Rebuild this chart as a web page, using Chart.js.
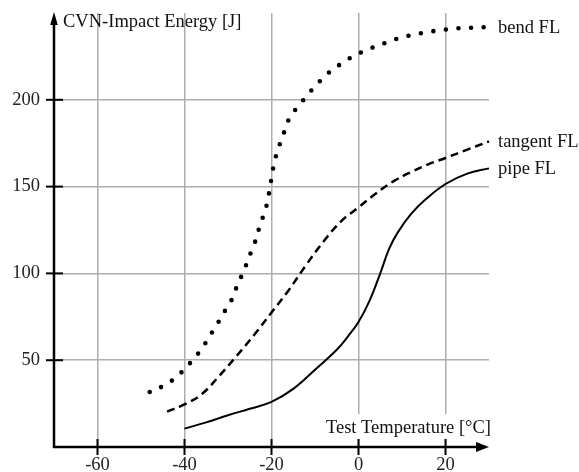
<!DOCTYPE html>
<html>
<head>
<meta charset="utf-8">
<script src="https://cdn.jsdelivr.net/npm/chart.js@4.4.1/dist/chart.umd.min.js"></script>
<style>
  html, body { margin: 0; padding: 0; background: #fff; }
  canvas { display: block; }
</style>
</head>
<body>
<canvas id="plot" width="579" height="472"></canvas>
<script>
// chart data

const xTicks = [-60, -40, -20, 0, 20]
const xTickLabels = ['-60', '-40', '-20', '0', '20']
const yTicks = [50, 100, 150, 200]
const yTickLabels = ['50', '100', '150', '200']

const xTitle = 'Test Temperature [°C]'
const yTitle = 'CVN-Impact Energy [J]'

const seriesNames = ['bend FL', 'tangent FL', 'pipe FL']

const bendTemp   = [-48, -45, -42.5, -40.5, -38.5, -36.5, -35, -33.5, -32, -30.5, -29, -28, -26.8, -25.7, -24.7, -23.7, -22.8, -21.9, -21, -20.5, -20, -19.5, -18.8, -17.8, -16.8, -15.8, -14, -12, -10, -8, -6, -3.5, -1, 1.7, 4.5, 7.2, 10, 13, 16, 19, 22, 25, 28, 30.5]
const bendEnergy = [31.7, 35, 39, 43.5, 49, 55, 60.6, 66.8, 72.8, 79.3, 85.6, 92.2, 99.1, 105.7, 112.4, 118.7, 126.4, 133.1, 140.4, 147.5, 154.8, 162, 169.2, 176.4, 183.3, 189.8, 195.8, 201.9, 207.7, 212.9, 217.3, 221.5, 225.4, 228.5, 231.3, 233.7, 236, 237.6, 239.1, 240.1, 241, 241.4, 241.8, 241.8]

const tangentTemp   = [-44, -40, -36, -32, -28, -24, -20, -16, -12, -8, -4, 0, 4, 8, 12, 16, 20, 25, 30]
const tangentEnergy = [20.4, 24.5, 30.5, 41, 52.5, 64.5, 77.5, 90.5, 105, 118.5, 130, 138, 146, 153, 158.3, 162.8, 166.5, 171.3, 176]

const pipeTemp   = [-40, -35, -30, -25, -20, -15, -10, -5, -2.5, 0, 2.5, 5, 7, 9, 12, 15.5, 20, 25, 30]
const pipeEnergy = [10.6, 14.2, 18.3, 22, 26, 33.5, 44.5, 56, 63.5, 72, 84, 100, 114, 123.5, 134, 142.8, 151.5, 157.5, 160.5]

const serif = 'Liberation Serif, Times New Roman, serif'
const fontSize = 18.5

function toPoints(xs, ys) {
  return xs.map((x, i) => ({ x: x, y: ys[i] }))
}

// axes with arrows, ticks crossing the axis, titles and line labels
const decorations = {
  id: 'decorations',
  beforeDatasetsDraw(chart) {
    const ctx = chart.ctx
    const area = chart.chartArea
    ctx.save()
    ctx.font = fontSize + 'px ' + serif
    const w = ctx.measureText(xTitle).width
    const right = area.right + 2
    // white patch behind the x title hides the grid
    ctx.fillStyle = '#fff'
    ctx.fillRect(right - w - 4, area.bottom - 33, w + 8, 25)
    ctx.fillStyle = '#111'
    ctx.textAlign = 'right'
    ctx.textBaseline = 'alphabetic'
    ctx.fillText(xTitle, right, area.bottom - 14)
    ctx.restore()
  },
  afterDraw(chart) {
    const ctx = chart.ctx
    const area = chart.chartArea
    const xs = chart.scales.x
    const ys = chart.scales.y
    ctx.save()
    ctx.strokeStyle = '#000'
    ctx.fillStyle = '#000'
    ctx.lineWidth = 2.5
    ctx.lineCap = 'butt'

    // y axis
    ctx.beginPath()
    ctx.moveTo(area.left, area.bottom + 1)
    ctx.lineTo(area.left, area.top + 8)
    ctx.stroke()
    ctx.beginPath()
    ctx.moveTo(area.left, area.top - 1)
    ctx.lineTo(area.left - 3.8, area.top + 12)
    ctx.lineTo(area.left + 3.8, area.top + 12)
    ctx.closePath()
    ctx.fill()

    // x axis
    ctx.beginPath()
    ctx.moveTo(area.left - 1, area.bottom)
    ctx.lineTo(area.right - 8, area.bottom)
    ctx.stroke()
    ctx.beginPath()
    ctx.moveTo(area.right, area.bottom)
    ctx.lineTo(area.right - 13, area.bottom - 5)
    ctx.lineTo(area.right - 13, area.bottom + 5)
    ctx.closePath()
    ctx.fill()

    // tick marks across the axes
    ctx.lineWidth = 2
    xTicks.forEach(v => {
      const px = xs.getPixelForValue(v)
      ctx.beginPath()
      ctx.moveTo(px, area.bottom - 8)
      ctx.lineTo(px, area.bottom + 8)
      ctx.stroke()
    })
    yTicks.forEach(v => {
      const py = ys.getPixelForValue(v)
      ctx.beginPath()
      ctx.moveTo(area.left - 8, py)
      ctx.lineTo(area.left + 9, py)
      ctx.stroke()
    })

    // y title
    ctx.font = fontSize + 'px ' + serif
    ctx.fillStyle = '#111'
    ctx.textAlign = 'left'
    ctx.textBaseline = 'alphabetic'
    ctx.fillText(yTitle, area.left + 9, area.top + 14)

    // series labels next to the end of each line
    ctx.textBaseline = 'middle'
    chart.data.datasets.forEach((ds, i) => {
      const last = ds.data[ds.data.length - 1]
      const px = xs.getPixelForValue(Math.min(last.x, 30))
      const py = ys.getPixelForValue(last.y)
      ctx.fillText(seriesNames[i], px + 9, py + 1)
    })
    ctx.restore()
  }
}

const tickFont = { family: serif, size: fontSize }

const chart = new Chart(
  document.getElementById('plot'),
  {
    type: 'scatter',
    data: {
      datasets: [
        {
          label: seriesNames[0],
          data: toPoints(bendTemp, bendEnergy),
          showLine: true,
          borderColor: '#000',
          borderWidth: 4.6,
          borderDash: [0, 12.6],
          borderCapStyle: 'round',
          tension: 0.4,
          pointRadius: 0,
          clip: 8
        },
        {
          label: seriesNames[1],
          data: toPoints(tangentTemp, tangentEnergy),
          showLine: true,
          borderColor: '#000',
          borderWidth: 2.5,
          borderDash: [8, 5],
          tension: 0.4,
          pointRadius: 0,
          clip: 8
        },
        {
          label: seriesNames[2],
          data: toPoints(pipeTemp, pipeEnergy),
          showLine: true,
          borderColor: '#000',
          borderWidth: 2,
          tension: 0.4,
          pointRadius: 0,
          clip: 8
        }
      ]
    },
    options: {
      responsive: false,
      animation: false,
      devicePixelRatio: 1,
      events: [],
      layout: { padding: { top: 13, right: 90, left: 0, bottom: 0 } },
      plugins: {
        legend: { display: false },
        tooltip: { enabled: false }
      },
      scales: {
        x: {
          type: 'linear',
          min: -70,
          max: 30,
          afterBuildTicks: s => { s.ticks = xTicks.map(v => ({ value: v })) },
          afterFit: s => { s.height = 25; s.paddingLeft = 0; s.paddingRight = 0 },
          border: { display: false },
          grid: { color: '#adadad', lineWidth: 1.5, drawTicks: false },
          ticks: {
            autoSkip: false,
            maxRotation: 0,
            padding: 7,
            color: '#222',
            font: tickFont,
            callback: (v, i) => xTickLabels[i]
          }
        },
        y: {
          type: 'linear',
          min: 0,
          max: 250,
          afterBuildTicks: s => { s.ticks = yTicks.map(v => ({ value: v })) },
          afterFit: s => { s.width = 54; s.paddingTop = 0; s.paddingBottom = 0 },
          border: { display: false },
          grid: { color: '#adadad', lineWidth: 1.5, drawTicks: false },
          ticks: {
            padding: 14,
            color: '#222',
            font: tickFont,
            callback: (v, i) => yTickLabels[i]
          }
        }
      }
    },
    plugins: [decorations]
  }
)
</script>
</body>
</html>
